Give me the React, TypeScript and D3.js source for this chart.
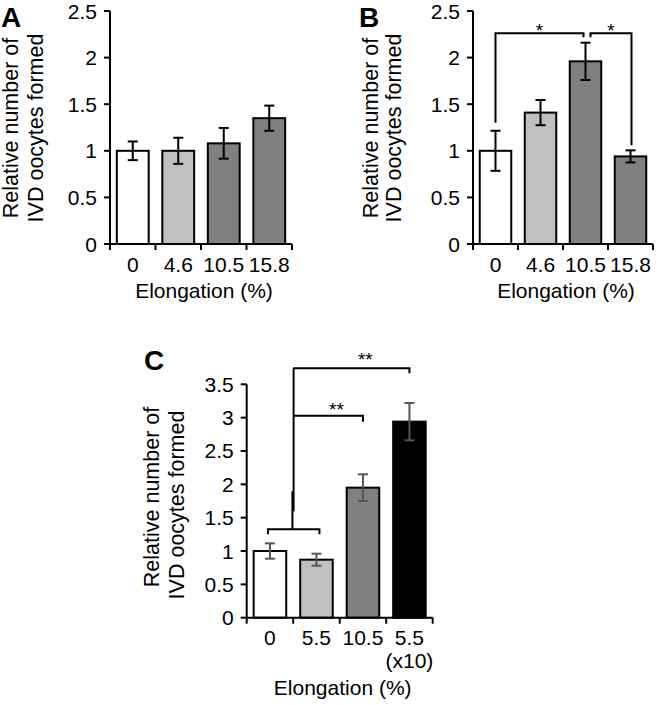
import React from "react";
import * as d3 from "d3";

// ---------- data ----------
const catsA = ["0", "4.6", "10.5", "15.8"];
const valsA = [1.0, 1.0, 1.08, 1.35];
const errsA = [0.1, 0.14, 0.165, 0.135];

const catsB = ["0", "4.6", "10.5", "15.8"];
const valsB = [1.0, 1.41, 1.96, 0.94];
const errsB = [0.215, 0.135, 0.2, 0.065];

const catsC = ["0", "5.5", "10.5", "5.5"];
const catsCSub = ["", "", "", "(x10)"];
const valsC = [1.0, 0.87, 1.95, 2.94];
const errsC = [0.115, 0.09, 0.2, 0.28];

const ticksAB = [0, 0.5, 1, 1.5, 2, 2.5];
const ticksC = [0, 0.5, 1, 1.5, 2, 2.5, 3, 3.5];

// significance levels (data units)
const sigB = [
  { a: 0, b: 2, level: 2.26, label: "*" },
  { a: 2, b: 3, level: 2.26, label: "*" },
];
const sigC = { low: 1.325, mid: 3.03, top: 3.74, midTo: 2, topTo: 3, label: "**" };

const FONT = "'Liberation Sans', Arial, Helvetica, sans-serif";
const fillsAB = ["#ffffff", "#c0c0c0", "#808080", "#808080"];
const fillsC = ["#ffffff", "#c0c0c0", "#808080", "#000000"];
const FS = 21;
const FSL = 21.5;

type PanelProps = {
  letter: string;
  letterX: number;
  letterY: number;
  left: number;
  right: number;
  top: number;
  bottom: number;
  yMax: number;
  ticks: number[];
  cats: string[];
  sub?: string[];
  vals: number[];
  errs: number[];
  fills: string[];
  errColor: string;
  ylabX1: number;
  ylabX2: number;
  ylabY1: number;
  ylabY2: number;
  tickLabDy: number;
  xLabDy: number;
  extra?: (x: d3.ScaleBand<string>, y: d3.ScaleLinear<number, number>) => React.ReactNode;
};

function Panel(p: PanelProps) {
  const keys = p.cats.map((_, i) => String(i));
  const x = d3
    .scaleBand<string>()
    .domain(keys)
    .range([p.left, p.right])
    .paddingInner(0.3)
    .paddingOuter(0.15);
  const y = d3.scaleLinear().domain([0, p.yMax]).range([p.bottom, p.top]);
  const bw = x.bandwidth();
  const step = x.step();
  const cap = 5;
  const fmt = (d: number) => String(d);
  const boundaries = d3.range(p.cats.length + 1).map((i) => p.left + i * step);
  return (
    <g fontFamily={FONT}>
      <text x={p.letterX} y={p.letterY} fontSize={28} fontWeight="bold" fill="#000">
        {p.letter}
      </text>
      {/* bars */}
      {p.vals.map((v, i) => (
        <rect
          key={"b" + i}
          x={x(keys[i])!}
          y={y(v)}
          width={bw}
          height={y(0) - y(v)}
          fill={p.fills[i]}
          stroke="#000"
          strokeWidth={2}
        />
      ))}
      {/* error bars */}
      {p.vals.map((v, i) => {
        const cx = x(keys[i])! + bw / 2;
        const hi = y(v + p.errs[i]);
        const lo = y(v - p.errs[i]);
        return (
          <g key={"e" + i} stroke={p.errColor} strokeWidth={2} fill="none">
            <line x1={cx} x2={cx} y1={hi} y2={lo} />
            <line x1={cx - cap} x2={cx + cap} y1={hi} y2={hi} />
            <line x1={cx - cap} x2={cx + cap} y1={lo} y2={lo} />
          </g>
        );
      })}
      {/* y axis */}
      <line x1={p.left} x2={p.left} y1={y(p.yMax)} y2={y(0)} stroke="#000" strokeWidth={2} />
      {p.ticks.map((t) => (
        <g key={"yt" + t}>
          <line x1={p.left - 6} x2={p.left} y1={y(t)} y2={y(t)} stroke="#000" strokeWidth={2} />
          <text x={p.left - 13} y={y(t) + 7.5} fontSize={FS} textAnchor="end" fill="#000">
            {fmt(t)}
          </text>
        </g>
      ))}
      {/* x axis */}
      <line x1={p.left} x2={p.right} y1={y(0)} y2={y(0)} stroke="#000" strokeWidth={2} />
      {boundaries.map((bx, i) => (
        <line key={"xt" + i} x1={bx} x2={bx} y1={y(0)} y2={y(0) + 6} stroke="#000" strokeWidth={2} />
      ))}
      {p.cats.map((c, i) => (
        <text
          key={"xl" + i}
          x={x(keys[i])! + bw / 2}
          y={y(0) + p.tickLabDy}
          fontSize={FS}
          textAnchor="middle"
          fill="#000"
        >
          {c}
        </text>
      ))}
      {p.sub &&
        p.sub.map((s, i) =>
          s ? (
            <text
              key={"xs" + i}
              x={x(keys[i])! + bw / 2}
              y={y(0) + p.tickLabDy + 23}
              fontSize={FS}
              textAnchor="middle"
              fill="#000"
            >
              {s}
            </text>
          ) : null
        )}
      <text
        x={(p.left + p.right) / 2 + 3}
        y={y(0) + p.xLabDy}
        fontSize={FS}
        textAnchor="middle"
        fill="#000"
      >
        Elongation (%)
      </text>
      {/* y label */}
      <text
        transform={`translate(${p.ylabX1},${p.ylabY1}) rotate(-90)`}
        fontSize={FSL}
        textAnchor="middle"
        fill="#000"
      >
        Relative number of
      </text>
      <text
        transform={`translate(${p.ylabX2},${p.ylabY2}) rotate(-90)`}
        fontSize={FSL}
        textAnchor="middle"
        fill="#000"
      >
        IVD oocytes formed
      </text>
      {p.extra && p.extra(x, y)}
    </g>
  );
}

export default function App() {
  return (
    <svg
      width={660}
      height={705}
      style={{ position: "absolute", left: 0, top: 0, background: "#fff" }}
    >
      <rect x={0} y={0} width={660} height={705} fill="#fff" />
      <Panel
        letter="A"
        letterX={1}
        letterY={27}
        left={110}
        right={292}
        top={11}
        bottom={244}
        yMax={2.5}
        ticks={ticksAB}
        cats={catsA}
        vals={valsA}
        errs={errsA}
        fills={fillsAB}
        errColor="#000"
        ylabX1={17.5}
        ylabX2={43}
        ylabY1={128}
        ylabY2={128}
        tickLabDy={28}
        xLabDy={54}
      />
      <Panel
        letter="B"
        letterX={359}
        letterY={27}
        left={473}
        right={653}
        top={11}
        bottom={244}
        yMax={2.5}
        ticks={ticksAB}
        cats={catsB}
        vals={valsB}
        errs={errsB}
        fills={fillsAB}
        errColor="#000"
        ylabX1={377.5}
        ylabX2={401}
        ylabY1={128}
        ylabY2={128}
        tickLabDy={28}
        xLabDy={54}
        extra={(x, y) => {
          const bw = x.bandwidth();
          const cx = (i: number) => x(String(i))! + bw / 2;
          const s0 = sigB[0];
          const s1 = sigB[1];
          const ly = y(s0.level);
          const aX = cx(s0.a);
          const mX1 = cx(s0.b) - 2;
          const mX2 = cx(s1.a) + 5;
          const bX = cx(s1.b) + 1;
          const leftLeg = y(valsB[s0.a] + errsB[s0.a]) - 8;
          const rightLeg = y(valsB[s1.b] + errsB[s1.b]) - 5;
          return (
            <g stroke="#000" strokeWidth={2} fill="none">
              <polyline points={`${aX},${leftLeg} ${aX},${ly} ${mX1},${ly} ${mX1},${ly + 4}`} />
              <polyline points={`${mX2},${ly + 4} ${mX2},${ly} ${bX},${ly} ${bX},${rightLeg}`} />
              <text
                x={(aX + mX1) / 2}
                y={ly + 4}
                fontSize={19}
                textAnchor="middle"
                stroke="none"
                fill="#000"
                fontFamily={FONT}
              >
                {s0.label}
              </text>
              <text
                x={(mX2 + bX) / 2}
                y={ly + 4}
                fontSize={19}
                textAnchor="middle"
                stroke="none"
                fill="#000"
                fontFamily={FONT}
              >
                {s1.label}
              </text>
            </g>
          );
        }}
      />
      <Panel
        letter="C"
        letterX={144}
        letterY={370}
        left={246.7}
        right={432.7}
        top={384.3}
        bottom={617.7}
        yMax={3.5}
        ticks={ticksC}
        cats={catsC}
        sub={catsCSub}
        vals={valsC}
        errs={errsC}
        fills={fillsC}
        errColor="#555555"
        ylabX1={159}
        ylabX2={184}
        ylabY1={497}
        ylabY2={505}
        tickLabDy={27}
        xLabDy={77}
        extra={(x, y) => {
          const bw = x.bandwidth();
          const cx = (i: number) => x(String(i))! + bw / 2;
          const trunk = x("1")! - (x.step() - bw) / 2;
          const lowY = y(sigC.low);
          const midY = y(sigC.mid);
          const topY = y(sigC.top);
          const l0 = cx(0) - 2;
          const l1 = cx(1) + 3;
          const midEnd = cx(sigC.midTo);
          const topEnd = cx(sigC.topTo);
          const frac = 0.62;
          return (
            <g stroke="#000" strokeWidth={2} fill="none">
              <polyline points={`${l0},${lowY + 5} ${l0},${lowY} ${l1},${lowY} ${l1},${lowY + 5}`} />
              <line x1={trunk - 0.8} x2={trunk - 0.8} y1={lowY} y2={lowY - 38} />
              <line x1={trunk + 0.4} x2={trunk + 0.4} y1={lowY - 18} y2={topY} />
              <polyline points={`${trunk},${midY} ${midEnd},${midY} ${midEnd},${midY + 6}`} />
              <polyline points={`${trunk},${topY} ${topEnd},${topY} ${topEnd},${topY + 5}`} />
              <text
                x={trunk + (midEnd - trunk) * frac}
                y={midY + 0}
                fontSize={19}
                textAnchor="middle"
                stroke="none"
                fill="#000"
                fontFamily={FONT}
              >
                {sigC.label}
              </text>
              <text
                x={trunk + (topEnd - trunk) * frac}
                y={topY - 2}
                fontSize={19}
                textAnchor="middle"
                stroke="none"
                fill="#000"
                fontFamily={FONT}
              >
                {sigC.label}
              </text>
            </g>
          );
        }}
      />
    </svg>
  );
}
